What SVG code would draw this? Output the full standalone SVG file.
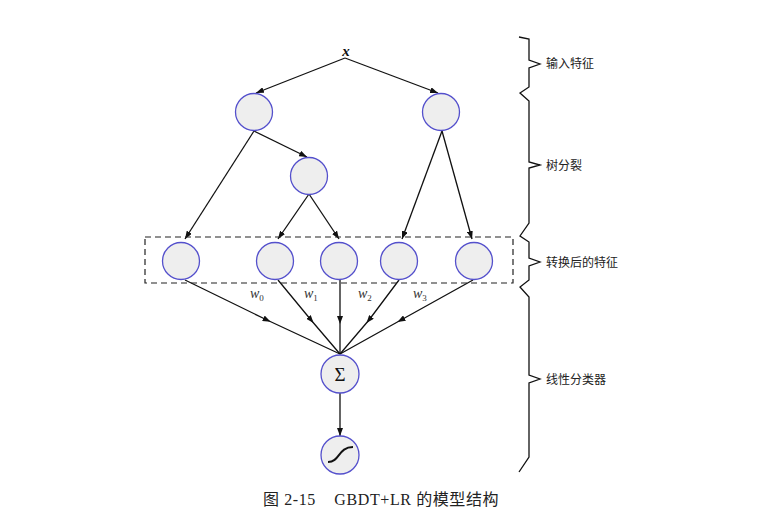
<svg xmlns="http://www.w3.org/2000/svg" width="765" height="520" viewBox="0 0 765 520">
<style>
.node{fill:#eeeeee;stroke:#5450cc;stroke-width:1.3}
.edge{fill:none;stroke:#111;stroke-width:1.3}
.lbl{font-family:"Liberation Sans","Noto Sans CJK SC",sans-serif;font-size:12px;fill:#222}
.w{font-family:"Liberation Serif",serif;font-style:italic;font-weight:normal;font-size:14px;fill:#333}
.sub{font-size:9px;font-style:normal}
</style>
<defs>
<marker id="ah" viewBox="0 0 8 6" refX="8" refY="3" markerWidth="8" markerHeight="6" markerUnits="userSpaceOnUse" orient="auto"><path d="M0,0 L8,3 L0,6 Z" fill="#111"/></marker>
<marker id="am" viewBox="0 0 8 6" refX="4" refY="3" markerWidth="8" markerHeight="6" markerUnits="userSpaceOnUse" orient="auto"><path d="M0,0 L8,3 L0,6 Z" fill="#111"/></marker>
</defs>
<rect width="765" height="520" fill="#fff"/>
<g id="connectors">
<path class="edge" d="M345,58 L256,93" marker-end="url(#ah)"/>
<path class="edge" d="M345,58 L438,93" marker-end="url(#ah)"/>
<path class="edge" d="M254,131 L307,157" marker-end="url(#ah)"/>
<path class="edge" d="M254,131 L185,239" marker-end="url(#ah)"/>
<path class="edge" d="M309,194 L278,239" marker-end="url(#ah)"/>
<path class="edge" d="M309,194 L339,239" marker-end="url(#ah)"/>
<path class="edge" d="M442,131 L402,239" marker-end="url(#ah)"/>
<path class="edge" d="M442,131 L472,239" marker-end="url(#ah)"/>
<path class="edge" d="M185,280 L267,320 L340,354" marker-mid="url(#am)"/>
<path class="edge" d="M278,280 L311,320 L340,354" marker-mid="url(#am)"/>
<path class="edge" d="M340,280 L340,320 L340,354" marker-mid="url(#am)"/>
<path class="edge" d="M399,280 L369,320 L340,354" marker-mid="url(#am)"/>
<path class="edge" d="M473,280 L401,320 L340,354" marker-mid="url(#am)"/>
<path class="edge" d="M340,393 L340,436" marker-end="url(#ah)"/>
</g>
<g id="input-x"><text x="346" y="56" text-anchor="middle" font-family="Liberation Serif,serif" font-style="italic" font-weight="bold" font-size="15" fill="#111">x</text></g>
<g id="tree-left"><circle class="node" cx="254" cy="112" r="18.5"/></g>
<g id="tree-right"><circle class="node" cx="441" cy="112" r="18.5"/></g>
<g id="tree-mid"><circle class="node" cx="309" cy="176" r="18.5"/></g>
<g id="features">
<rect x="145" y="237" width="368" height="46" fill="none" stroke="#222" stroke-width="1.2" stroke-dasharray="6,4"/>
<g id="leaf1"><circle class="node" cx="181" cy="261" r="18.5"/></g>
<g id="leaf2"><circle class="node" cx="275" cy="261" r="18.5"/></g>
<g id="leaf3"><circle class="node" cx="339" cy="261" r="18.5"/></g>
<g id="leaf4"><circle class="node" cx="399" cy="261" r="18.5"/></g>
<g id="leaf5"><circle class="node" cx="474" cy="261" r="18.5"/></g>
</g>
<g id="weights">
<text class="w" x="250" y="298">w<tspan class="sub" dy="3">0</tspan></text>
<text class="w" x="304" y="298">w<tspan class="sub" dy="3">1</tspan></text>
<text class="w" x="358" y="298">w<tspan class="sub" dy="3">2</tspan></text>
<text class="w" x="413" y="298">w<tspan class="sub" dy="3">3</tspan></text>
</g>
<g id="sum"><circle class="node" cx="340" cy="374" r="19"/><text x="340" y="381" text-anchor="middle" font-family="Liberation Serif,serif" font-size="19" fill="#111">Σ</text></g>
<g id="sigmoid"><circle class="node" cx="340" cy="455" r="19"/><path d="M328,462 C340,462 338,447 353,447" fill="none" stroke="#111" stroke-width="2"/></g>
<g id="brace">
<path d="M519,37 L529,39 L529,60 L540,64 L529,68 L529,87 L520,93 L529,101 L529,162 L540,165 L529,168 L529,223 L520,236 L529,242 L529,258 L540,262 L529,266 L529,280 L520,287 L529,297 L529,375 L540,379 L529,383 L529,457 L519,472" fill="none" stroke="#111" stroke-width="1.3"/>
<text class="lbl" x="546" y="68">输入特征</text>
<text class="lbl" x="546" y="170">树分裂</text>
<text class="lbl" x="546" y="267">转换后的特征</text>
<text class="lbl" x="546" y="384">线性分类器</text>
</g>
<g id="caption"><text x="263" y="505" font-family="Liberation Serif,'Noto Sans CJK SC',serif" font-size="16" letter-spacing="0.6" fill="#222" xml:space="preserve">图 2-15    GBDT+LR 的模型结构</text></g>
</svg>
